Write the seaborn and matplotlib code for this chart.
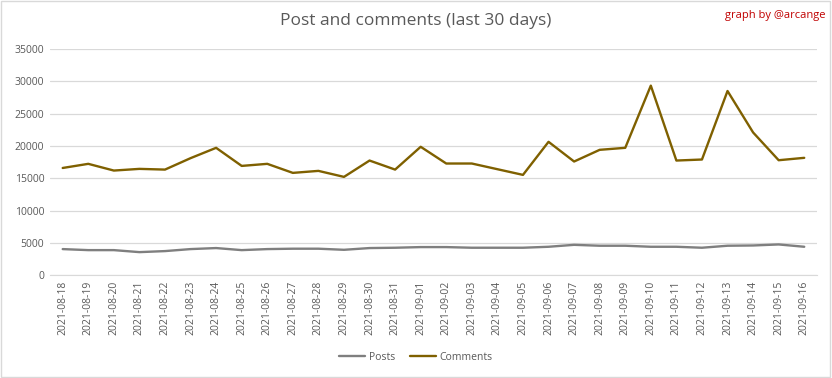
import matplotlib
matplotlib.use("Agg")
import matplotlib.pyplot as plt
import seaborn as sns
import pandas as pd
from matplotlib.patches import Rectangle

dates = ["2021-08-18", "2021-08-19", "2021-08-20", "2021-08-21", "2021-08-22",
         "2021-08-23", "2021-08-24", "2021-08-25", "2021-08-26", "2021-08-27",
         "2021-08-28", "2021-08-29", "2021-08-30", "2021-08-31", "2021-09-01",
         "2021-09-02", "2021-09-03", "2021-09-04", "2021-09-05", "2021-09-06",
         "2021-09-07", "2021-09-08", "2021-09-09", "2021-09-10", "2021-09-11",
         "2021-09-12", "2021-09-13", "2021-09-14", "2021-09-15", "2021-09-16"]
posts = [4040, 3880, 3880, 3570, 3730, 4040, 4200, 3880, 4040, 4100,
         4100, 3930, 4200, 4250, 4350, 4350, 4250, 4250, 4250, 4400,
         4700, 4560, 4560, 4400, 4400, 4250, 4560, 4600, 4760, 4400]
comments = [16600, 17240, 16200, 16460, 16350, 18120, 19720, 16920, 17240, 15840,
            16150, 15220, 17750, 16350, 19880, 17290, 17290, 16410, 15530, 20650,
            17600, 19410, 19720, 29350, 17750, 17910, 28520, 22100, 17800, 18170]
series_names = ["Posts", "Comments"]
colors = ["#7f7f7f", "#7f6000"]

df = pd.DataFrame({"idx": list(range(len(dates))) * 2,
                   "value": posts + comments,
                   "series": [series_names[0]] * len(dates) + [series_names[1]] * len(dates)})

sns.set_style("white")
plt.rcParams["font.family"] = ["Open Sans", "DejaVu Sans"]

fig = plt.figure(figsize=(8.32, 3.78), dpi=100)
ax = fig.add_axes([0.060, 0.272, 0.922, 0.598])

sns.lineplot(data=df, x="idx", y="value", hue="series", palette=colors,
             linewidth=1.7, ax=ax, legend=False)

ax.set_xlim(-0.5, len(dates) - 0.5)
ax.set_ylim(0, 35000)
ax.set_yticks(range(0, 35001, 5000))
ax.set_yticklabels([str(v) for v in range(0, 35001, 5000)], fontsize=7.5, color="#595959")
ax.set_xticks(range(len(dates)))
ax.set_xticklabels(dates, rotation=90, fontsize=7.5, color="#595959")
ax.tick_params(axis="both", length=0, pad=4)
ax.grid(axis="y", color="#d9d9d9", linewidth=0.9)
ax.set_axisbelow(True)
for s in ["top", "right", "left"]:
    ax.spines[s].set_visible(False)
ax.spines["bottom"].set_color("#d9d9d9")
ax.set_xlabel("")
ax.set_ylabel("")

fig.text(0.5, 0.945, "Post and comments (last 30 days)", ha="center", va="center",
         fontsize=12.5, color="#595959")
fig.text(0.992, 0.96, "graph by @arcange", ha="right", va="center",
         fontsize=8, color="#c00000")

from matplotlib.lines import Line2D
handles = [Line2D([0], [0], color=c, lw=1.7) for c in colors]
fig.legend(handles, series_names, loc="center", bbox_to_anchor=(0.5, 0.055), ncol=2,
           frameon=False, fontsize=7.5, labelcolor="#595959", handlelength=2.5,
           handletextpad=0.3, columnspacing=1.5)

fig.patches.append(Rectangle((0.001, 0.002), 0.997, 0.995, transform=fig.transFigure,
                             fill=False, edgecolor="#d9d9d9", linewidth=1))

fig.savefig("out.png", dpi=100)
